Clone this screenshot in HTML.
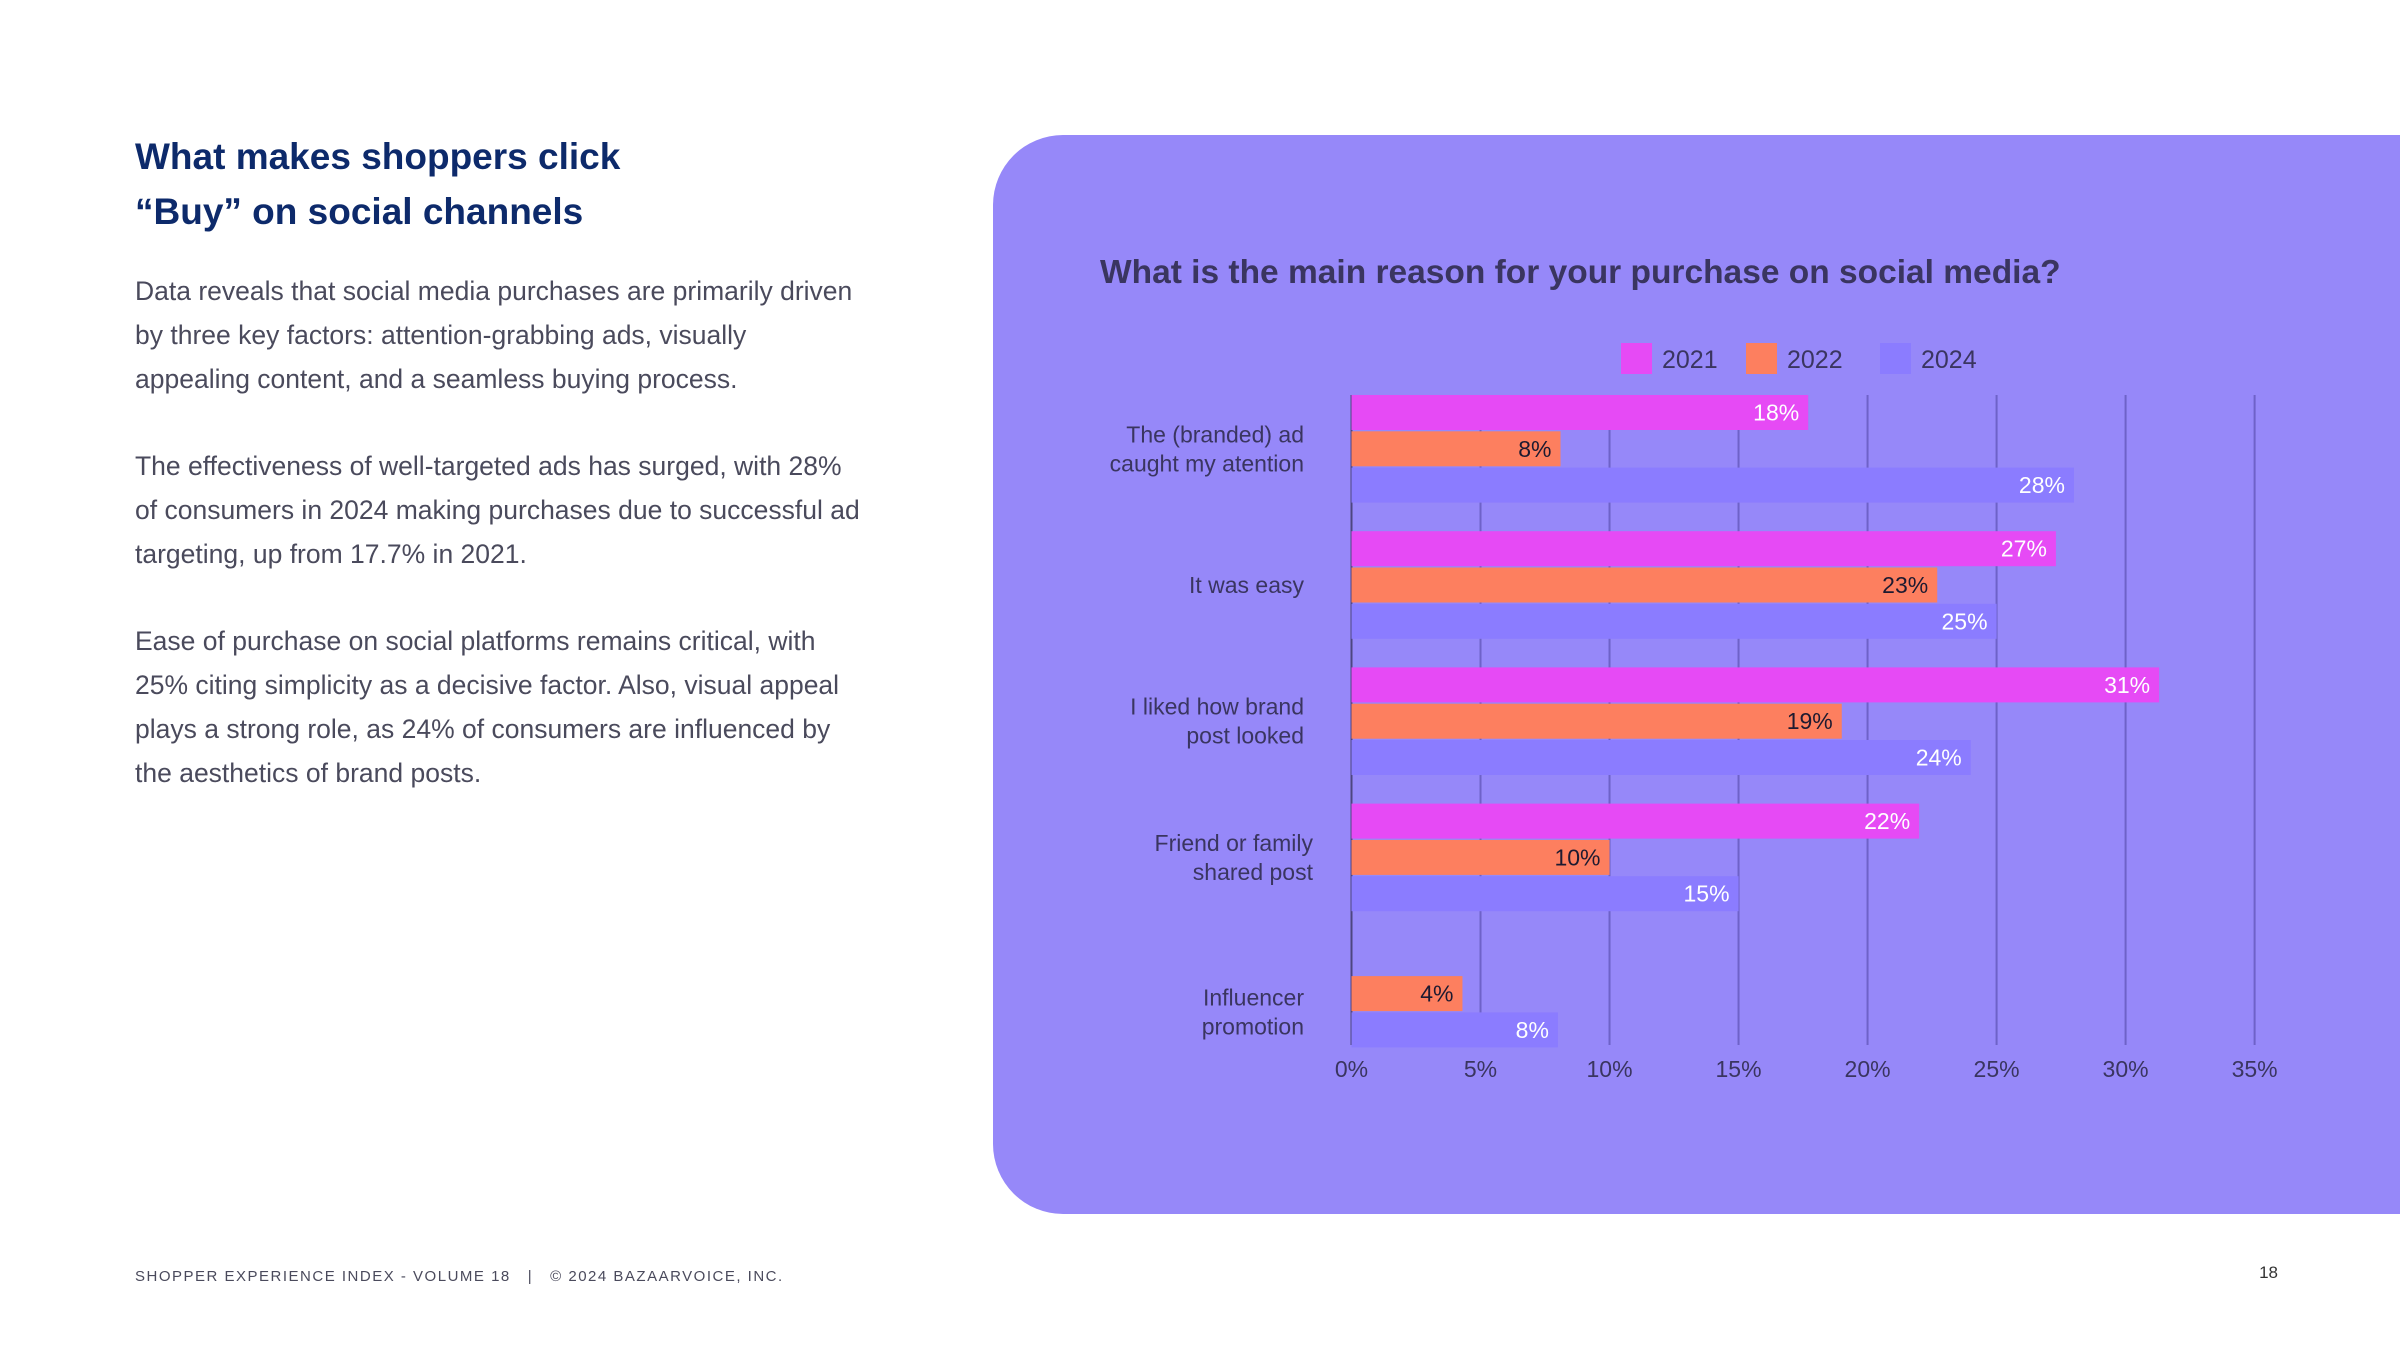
<!DOCTYPE html>
<html><head><meta charset="utf-8"><style>
html,body{margin:0;padding:0;background:#fff;}
svg{display:block;}
text{font-family:"Liberation Sans",sans-serif;}
</style></head><body>
<svg id="page" width="2400" height="1350" viewBox="0 0 2400 1350" xmlns="http://www.w3.org/2000/svg">
<g>
<text x="135" y="169" font-size="37" font-weight="bold" fill="#0d2a6b">What makes shoppers click</text>
<text x="135" y="224" font-size="37" font-weight="bold" fill="#0d2a6b">“Buy” on social channels</text>
<g font-size="26.5" fill="#4a4a5c">
<text x="135" y="300">Data reveals that social media purchases are primarily driven</text>
<text x="135" y="344">by three key factors: attention-grabbing ads, visually</text>
<text x="135" y="388">appealing content, and a seamless buying process.</text>
<text x="135" y="475">The effectiveness of well-targeted ads has surged, with 28%</text>
<text x="135" y="519">of consumers in 2024 making purchases due to successful ad</text>
<text x="135" y="563">targeting, up from 17.7% in 2021.</text>
<text x="135" y="650">Ease of purchase on social platforms remains critical, with</text>
<text x="135" y="694">25% citing simplicity as a decisive factor. Also, visual appeal</text>
<text x="135" y="738">plays a strong role, as 24% of consumers are influenced by</text>
<text x="135" y="782">the aesthetics of brand posts.</text>
</g>
</g>
<path d="M1063,135 H2400 V1214 H1063 A70,70 0 0 1 993,1144 V205 A70,70 0 0 1 1063,135 Z" fill="#9688f9"/>
<text x="1100" y="283" font-size="33.5" font-weight="bold" fill="#3a3560">What is the main reason for your purchase on social media?</text>
<g id="legend"></g>
<g id="grid"></g>
<g id="bars"></g>
<g id="cats"></g>
<g id="ticks"></g>
<text x="135" y="1281" font-size="15" letter-spacing="1.5" fill="#4a4a5c" xml:space="preserve" style="white-space:pre">SHOPPER EXPERIENCE INDEX - VOLUME 18   |   © 2024 BAZAARVOICE, INC.</text>
<text x="2278" y="1278" font-size="17" fill="#333" text-anchor="end">18</text>
</svg>
<script>
const categories = [["The (branded) ad","caught my atention"],["It was easy"],["I liked how brand","post looked"],["Friend or family","shared post"],["Influencer","promotion"]];
const seriesNames = ["2021","2022","2024"];
const values2021 = [17.7, 27.3, 31.3, 22, null];
const values2022 = [8.1, 22.7, 19, 10, 4.3];
const values2024 = [28, 25, 24, 15, 8];
const labels2021 = ["18%","27%","31%","22%",""];
const labels2022 = ["8%","23%","19%","10%","4%"];
const labels2024 = ["28%","25%","24%","15%","8%"];
const tickValues = [0,5,10,15,20,25,30,35];
const tickLabels = ["0%","5%","10%","15%","20%","25%","30%","35%"];

const NS="http://www.w3.org/2000/svg";
const colors=["#e64af5","#fd7f5f","#8b7cff"];
const labelColors=["#fff","#1d1a30","#fff"];
const x0=1351.5, x35=2254.6, plotTop=395, plotBottom=1045;
const groupTop=395, groupPitch=136.2, barH=35, barStep=36.3;
function xs(v){return x0+(x35-x0)*v/35;}
function mk(tag,attrs,parent){const e=document.createElementNS(NS,tag);for(const k in attrs)e.setAttribute(k,attrs[k]);parent.appendChild(e);return e;}

const grid=document.getElementById('grid');
tickValues.forEach((t,i)=>{
  const l=mk('line',{x1:xs(t),x2:xs(t),y1:plotTop,y2:plotBottom,stroke:i===0?'#4d4680':'#6e62c8','stroke-width':2},grid);
  
  
});
const ticks=document.getElementById('ticks');
tickValues.forEach((t,i)=>{
  const tx=mk('text',{x:xs(t),y:1077,'font-size':23,fill:'#3a3560','text-anchor':'middle'},ticks);
  tx.textContent=tickLabels[i];
  
  
});
const bars=document.getElementById('bars');
const series=[values2021,values2022,values2024];
const labs=[labels2021,labels2022,labels2024];
categories.forEach((c,ci)=>{
  series.forEach((vals,si)=>{
    const v=vals[ci]; if(v==null) return;
    const y=groupTop+ci*groupPitch+si*barStep;
    const r=mk('rect',{x:xs(0),y:y,width:xs(v)-xs(0),height:barH,fill:colors[si]},bars);
    
    
    const t=mk('text',{x:xs(v)-9,y:y+barH/2+8,'font-size':23,fill:labelColors[si],'text-anchor':'end'},bars);
    t.textContent=labs[si][ci];
    
    
  });
});
const cats=document.getElementById('cats');
categories.forEach((c,ci)=>{
  let cy=groupTop+ci*groupPitch+barStep+barH/2;
  if(values2021[ci]==null) cy+=barStep/2;
  const xr = ci===3?1313:1304;
  const n=c.length, lh=29;
  c.forEach((line,li)=>{
    const t=mk('text',{x:xr,y:cy-(n-1)*lh/2+li*lh+8,'font-size':23,fill:'#3a3560','text-anchor':'end'},cats);
    t.textContent=line;
    
    
  });
});
const legend=document.getElementById('legend');
const lx=[1621,1746,1880];
seriesNames.forEach((s,i)=>{
  const r=mk('rect',{x:lx[i],y:343,width:31,height:31,fill:colors[i]},legend);
  
  
  const t=mk('text',{x:lx[i]+41,y:368,'font-size':25,fill:'#3a3560'},legend);
  t.textContent=s;
  
  
});
</script>
</body></html>
